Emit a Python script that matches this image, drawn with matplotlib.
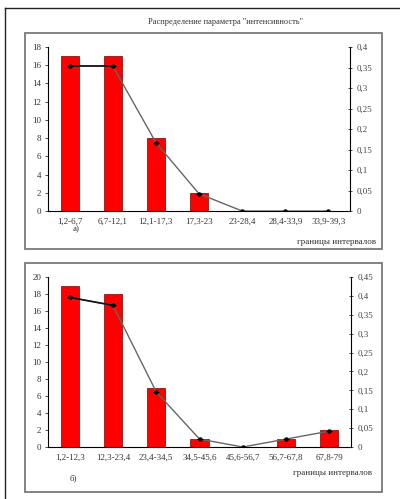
import matplotlib.pyplot as plt
from matplotlib.patches import Rectangle
from matplotlib.lines import Line2D
from matplotlib.ticker import FuncFormatter

plt.rcParams['font.family'] = ['Liberation Serif', 'DejaVu Serif']

W, H = 400, 499

# Распределение параметра "интенсивность"
labels_a = ["1,2-6,7", "6,7-12,1", "12,1-17,3", "17,3-23", "23-28,4", "28,4-33,9", "33,9-39,3"]
counts_a = [17, 17, 8, 2, 0, 0, 0]
freq_a = [0.354, 0.354, 0.167, 0.042, 0, 0, 0]

labels_b = ["1,2-12,3", "12,3-23,4", "23,4-34,5", "34,5-45,6", "45,6-56,7", "56,7-67,8", "67,8-79"]
counts_b = [19, 18, 7, 1, 0, 1, 2]
freq_b = [0.396, 0.375, 0.146, 0.021, 0, 0.021, 0.042]


def px_box(x0, y0, x1, y1):
    # pixel rect (top-left origin) -> figure fraction [l, b, w, h]
    return [x0 / W, 1 - y1 / H, (x1 - x0) / W, (y1 - y0) / H]


def comma(v, pos):
    s = ("%.2f" % v).rstrip("0").rstrip(".")
    return s.replace(".", ",")


def draw_panel(fig, rect, labels, counts, freq, ymax, y2max, y2step):
    ax = fig.add_axes(px_box(*rect))
    x = range(len(labels))
    ax.bar(x, counts, width=0.42, color="#ff0000", edgecolor="#7a0000", linewidth=0.5, zorder=2)
    ax.set_xlim(-0.5, len(labels) - 0.5)
    ax.set_ylim(0, ymax)
    ax.set_yticks(range(0, ymax + 1, 2))
    ax.set_xticks(list(x))
    ax.set_xticklabels(labels)
    ax.tick_params(axis="both", labelsize=6.5, length=2, width=0.6, color="#333333",
                   labelcolor="#333333", pad=3)
    ax.tick_params(axis="x", length=0, pad=5)
    for s in ("top", "right"):
        ax.spines[s].set_visible(False)
    ax.spines["left"].set_linewidth(0.8)
    ax.spines["bottom"].set_linewidth(0.8)

    ax2 = ax.twinx()
    ax2.set_ylim(0, y2max)
    n = int(round(y2max / y2step))
    ax2.set_yticks([i * y2step for i in range(n + 1)])
    ax2.yaxis.set_major_formatter(FuncFormatter(comma))
    ax2.tick_params(axis="y", labelsize=6.5, length=3, width=0.6, direction="inout",
                    color="#333333", labelcolor="#444444", pad=3)
    for s in ("top", "left", "bottom"):
        ax2.spines[s].set_visible(False)
    ax2.spines["right"].set_linewidth(0.8)
    ax2.plot(list(x), freq, color="#666666", linewidth=1.0, zorder=3)
    ax2.plot(list(x)[:2], freq[:2], color="#111111", linewidth=1.2, zorder=4)
    ax2.plot(list(x), freq, linestyle="none", marker="o", markersize=2.2,
             color="#000000", zorder=5)
    ax2.plot(list(x), freq, linestyle="none", marker="_", markersize=5,
             markeredgewidth=0.8, color="#000000", zorder=5)
    return ax


fig = plt.figure(figsize=(W / 100, H / 100), dpi=100)
fig.patch.set_facecolor("white")

# outer page frame
fig.add_artist(Line2D([5 / W, 5 / W], [0, 1 - 8 / H], color="#222222", linewidth=1.0,
                      transform=fig.transFigure))
fig.add_artist(Line2D([5 / W, 1], [1 - 8 / H, 1 - 8 / H], color="#222222", linewidth=1.0,
                      transform=fig.transFigure))

# chart area boxes
for bx in [(25, 33, 382, 249), (25, 263, 382, 492)]:
    l, b, w, h = px_box(*bx)
    fig.add_artist(Rectangle((l, b), w, h, transform=fig.transFigure, fill=False,
                             edgecolor="#7a7a7a", linewidth=1.3))

fig.text(225 / W, 1 - 22 / H, 'Распределение параметра "интенсивность"', ha="center",
         va="center", fontsize=6, color="#333333")

draw_panel(fig, (48, 47, 350, 211), labels_a, counts_a, freq_a, 18, 0.4, 0.05)
fig.text(76 / W, 1 - 229 / H, "а)", ha="center", va="center", fontsize=6.5, color="#333333")
fig.text(376 / W, 1 - 242 / H, "границы интервалов", ha="right", va="center",
         fontsize=6.5, color="#333333")

draw_panel(fig, (48, 277, 351, 447), labels_b, counts_b, freq_b, 20, 0.45, 0.05)
fig.text(73 / W, 1 - 478 / H, "б)", ha="center", va="center", fontsize=6.5, color="#333333")
fig.text(372 / W, 1 - 473 / H, "границы интервалов", ha="right", va="center",
         fontsize=6.5, color="#333333")

fig.savefig("out.png", dpi=100)
